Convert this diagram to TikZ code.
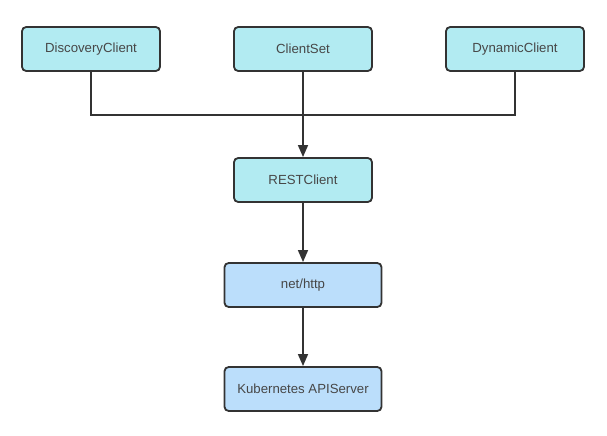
\documentclass[tikz,border=0pt]{standalone}
\usepackage{fontspec}
\setmainfont{Liberation Sans}
\definecolor{boxcyan}{RGB}{178,235,242}
\definecolor{boxblue}{RGB}{187,222,251}
\definecolor{linegray}{RGB}{51,51,51}
\usetikzlibrary{arrows.meta,positioning}
\begin{document}
\begin{tikzpicture}[
  clientbox/.style={draw=linegray, line width=1.3pt, fill=boxcyan, rounded corners=3pt,
    minimum height=1.1cm, minimum width=3.45cm, align=center, font=\fontsize{9.4}{11}\selectfont, text=linegray!90},
  netbox/.style={clientbox, fill=boxblue, minimum width=3.925cm},
  link/.style={draw=linegray, line width=1.3pt}]

\useasboundingbox (0,0) rectangle (15.175,10.875);

% Clients
\node[clientbox] (dc) at (2.275,9.65) {DiscoveryClient};
\node[clientbox] (cs) at (7.575,9.65) {ClientSet};
\node[clientbox] (dyc) at (12.875,9.65) {DynamicClient};

% Lower layers
\node[clientbox] (rest) at (7.575,6.375) {RESTClient};
\node[netbox] (net) at (7.575,3.75) {net/http};
\node[netbox] (api) at (7.575,1.15) {Kubernetes APIServer};

\coordinate (join) at (7.575,8.0);

% Connectors
\draw[link] (dc.south) |- (join);
\draw[link] (dyc.south) |- (join);
\draw[link, -{Triangle[length=8.5pt, width=7pt]}] (cs.south) -- (rest.north);
\draw[link, -{Triangle[length=8.5pt, width=7pt]}] (rest.south) -- (net.north);
\draw[link, -{Triangle[length=8.5pt, width=7pt]}] (net.south) -- (api.north);

\end{tikzpicture}
\end{document}
